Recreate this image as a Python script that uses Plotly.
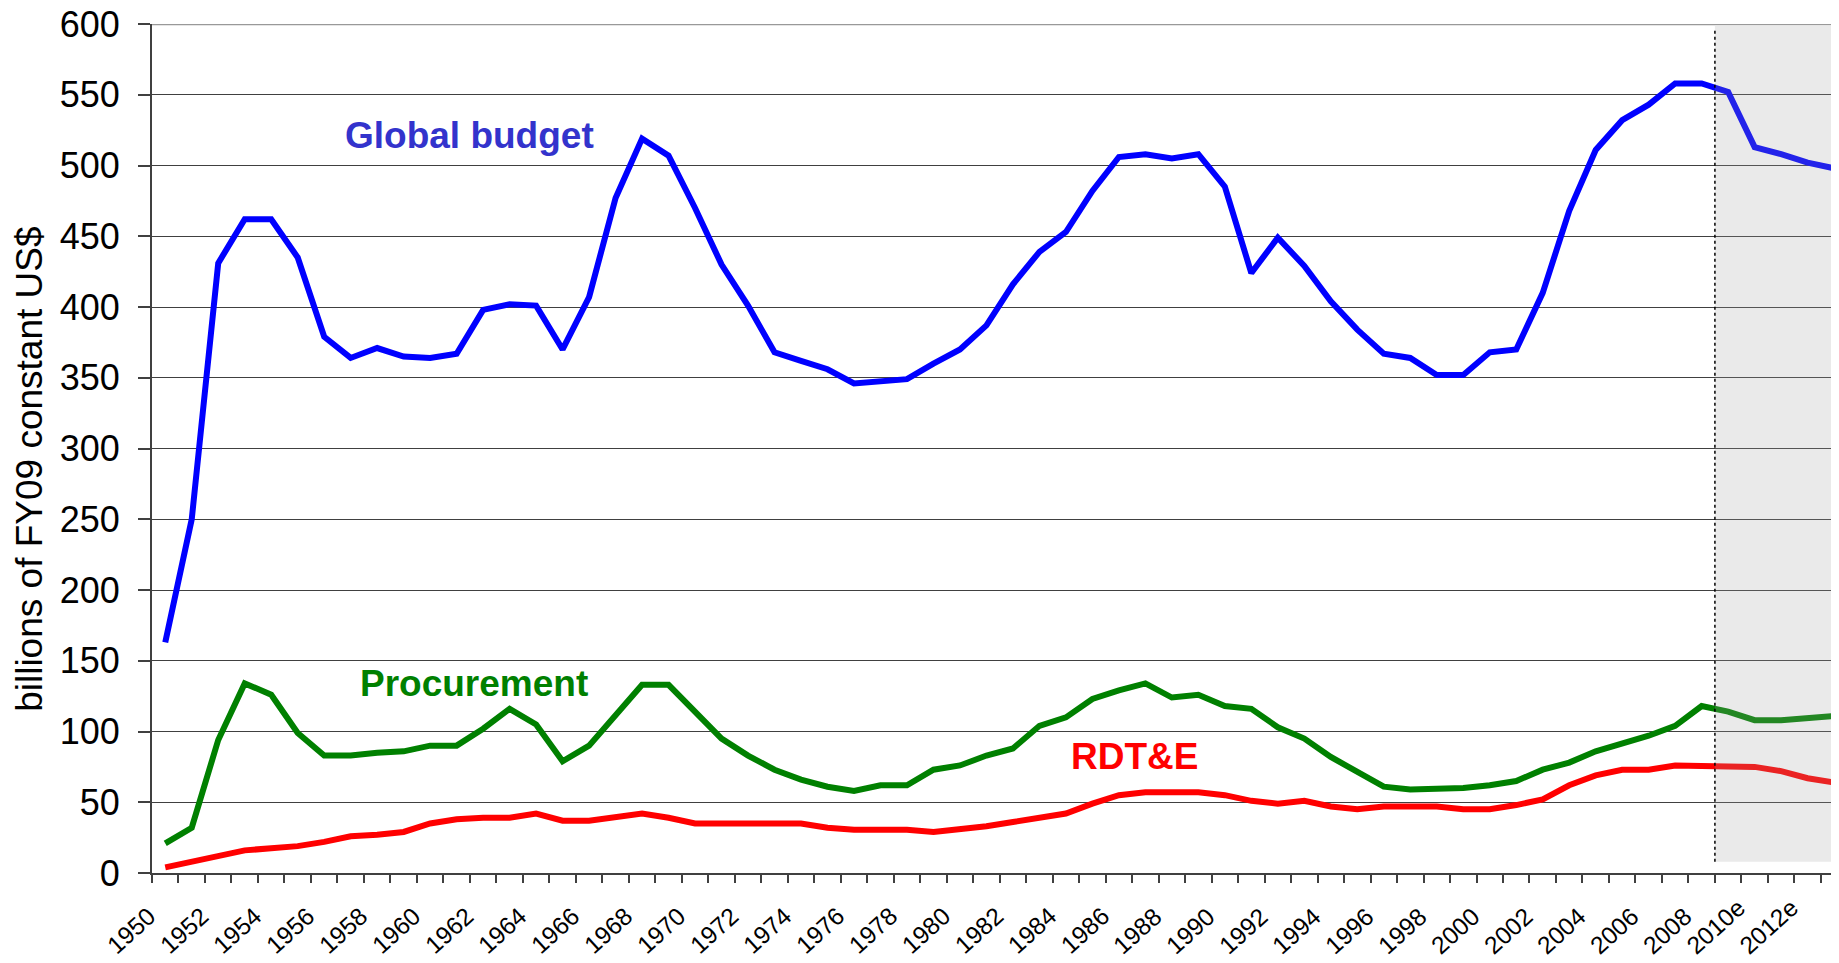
import plotly.graph_objects as go

# ---------------- data ----------------
categories = [str(y) for y in range(1950, 2009)] + ["2009e", "2010e", "2011e", "2012e", "2013e"]

global_budget = [163, 250, 431, 462, 462, 435, 379, 364, 371, 365,
                 364, 367, 398, 402, 401, 370, 407, 477, 519, 507,
                 470, 430, 401, 368, 362, 356, 346, 347, 349, 360,
                 370, 387, 416, 439, 453, 482, 506, 508, 505, 508,
                 485, 424, 449, 429, 404, 384, 367, 364, 352, 352,
                 368, 370, 410, 468, 511, 532, 543, 558, 558, 552,
                 513, 508, 502, 498]

procurement = [21, 32, 94, 134, 126, 99, 83, 83, 85, 86,
               90, 90, 102, 116, 105, 79, 90, 112, 133, 133,
               114, 95, 83, 73, 66, 61, 58, 62, 62, 73,
               76, 83, 88, 104, 110, 123, 129, 134, 124, 126,
               118, 116, 103, 95, 82, 71, 61, 59, 59, 60,
               62, 65, 73, 78, 86, 91, 97, 104, 118, 114,
               108, 108, 109, 111]

rdte = [4, 8, 13, 16, 17.5, 19, 22, 26, 27, 29,
        35, 38, 39, 39, 42, 37, 37, 40, 42, 39,
        35, 35, 35, 35, 35, 32, 30.5, 30.5, 30.5, 29,
        30.5, 33, 36, 39, 42, 49, 55, 57, 57, 57,
        55, 51, 49, 51, 47, 45, 47, 47, 47, 45,
        45, 48, 52, 62, 69, 73, 73, 76, 76, 76,
        75, 72, 67, 64]

tick_labels = [c if i % 2 == 0 else "" for i, c in enumerate(categories)]
y_ticks = list(range(0, 601, 50))

series_names = ["Global budget", "Procurement", "RDT&E"]
# --------------------------------------

FONT = "Liberation Sans, Arial, sans-serif"
OFF = 8                      # page body margin of the html page
W, H = 1839 - OFF, 963 - OFF
ML, MR, MT = 152 - OFF, 0, 24 - OFF
PLOT_BOTTOM = 873.3 - OFF
MB = H - PLOT_BOTTOM
PLOT_H = PLOT_BOTTOM - MT
CAT_W = 26.49
x_end = -0.5 + (W - ML - MR) / CAT_W
first_estimate = categories.index("2009e") - 0.5

fig = go.Figure()
for name, vals, col in zip(series_names, [global_budget, procurement, rdte],
                           ["#0000FF", "#008000", "#FF0000"]):
    fig.add_trace(go.Scatter(x=categories, y=vals, mode="lines", name=name,
                             line=dict(color=col, width=6), showlegend=False))

# shaded estimate region + dotted separator
fig.add_shape(type="rect", xref="x", yref="y", x0=first_estimate, x1=x_end + 1,
              y0=8, y1=598.5, fillcolor="rgba(160,160,160,0.22)", line_width=0, layer="above")
fig.add_shape(type="line", xref="x", yref="y", x0=first_estimate, x1=first_estimate,
              y0=8, y1=596, line=dict(color="black", width=1.5, dash="dot"), layer="above")
# top border
fig.add_shape(type="line", xref="paper", yref="y", x0=0, x1=1, y0=600, y1=600,
              line=dict(color="#999999", width=2.5), layer="above")

ann = [
    ("Global budget", 11.5, 521, "#3333CC"),
    ("Procurement", 11.65, 134, "#008000"),
    ("RDT&E", 36.58, 82, "#FF0000"),
]
for txt, xx, yy, col in ann:
    fig.add_annotation(x=xx, y=yy, xref="x", yref="y", text="<b>%s</b>" % txt,
                       showarrow=False, font=dict(family=FONT, size=37, color=col),
                       xanchor="center", yanchor="middle")

# rotated category labels (placed by category index on the category axis)
for i, lab in enumerate(tick_labels):
    if lab:
        top = 901 - OFF - 8 * (len(lab) - 4)
        fig.add_annotation(x=i, xref="x", y=-(top - PLOT_BOTTOM) / PLOT_H, yref="paper",
                           text=lab, textangle=-42, showarrow=False,
                           font=dict(family=FONT, size=24.5, color="black"),
                           xanchor="right", yanchor="top", xshift=-3, borderpad=0)

fig.add_annotation(xref="paper", yref="paper", x=(30 - OFF - ML) / (W - ML - MR),
                   y=(PLOT_BOTTOM - (470 - OFF)) / PLOT_H,
                   text="billions of FY09 constant US$", textangle=-90, showarrow=False,
                   font=dict(family=FONT, size=37, color="black"),
                   xanchor="center", yanchor="middle")

fig.update_layout(
    width=W, height=H,
    margin=dict(l=ML, r=MR, t=MT, b=MB, autoexpand=False),
    paper_bgcolor="white", plot_bgcolor="white",
    font=dict(family=FONT, color="black"),
)
fig.update_xaxes(type="category", range=[-0.5, x_end], automargin=False,
                 tickmode="array", tickvals=categories, ticktext=tick_labels,
                 tickson="boundaries", ticks="outside", ticklen=8, tickwidth=1.5, tickcolor="#404040",
                 showticklabels=False,
                 showline=True, linecolor="#404040", linewidth=2,
                 showgrid=False, zeroline=False)
fig.update_yaxes(range=[0, 600], tickmode="array", tickvals=y_ticks, automargin=False,
                 ticks="outside", ticklen=12, tickwidth=1.5, tickcolor="#404040",
                 tickfont=dict(family=FONT, size=36, color="black"),
                 ticklabelstandoff=11, ticklabeloverflow="allow",
                 showline=True, linecolor="#404040", linewidth=2,
                 showgrid=True, gridcolor="#404040", gridwidth=1, zeroline=False)

fig.write_html("out.html")
